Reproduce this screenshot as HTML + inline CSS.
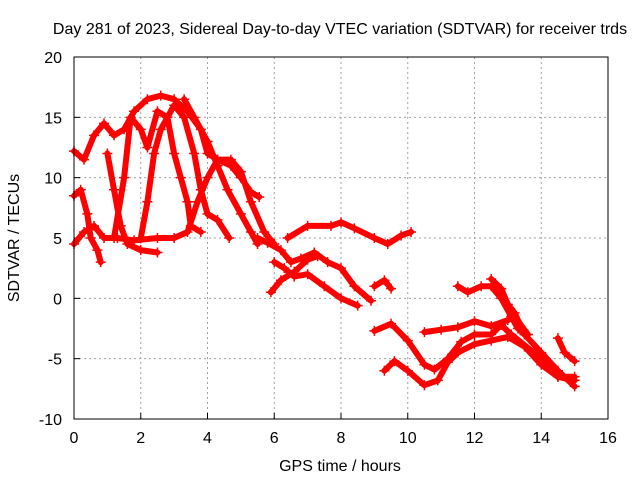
<!DOCTYPE html>
<html><head><meta charset="utf-8"><style>
body{margin:0;background:#fff}
svg text{font-family:"Liberation Sans",sans-serif;font-size:16px;fill:#000}
</style></head><body>
<svg id="chart" width="640" height="480" xmlns="http://www.w3.org/2000/svg">
<rect width="640" height="480" fill="#fff"/>
<text x="340" y="34" text-anchor="middle">Day 281 of 2023, Sidereal Day-to-day VTEC variation (SDTVAR) for receiver trds</text>
<g id="grid"></g>
<g id="ticks"></g>
<g id="series"></g>
<rect x="74" y="57" width="534" height="362" fill="none" stroke="#000" stroke-width="1"/>
<text x="340" y="471" text-anchor="middle">GPS time / hours</text>
<text transform="translate(19,238) rotate(-90)" text-anchor="middle">SDTVAR / TECUs</text>
</svg>
<script>
const xTicks=[0,2,4,6,8,10,12,14,16];
const yTicks=[-10,-5,0,5,10,15,20];
const trackA_t=[0,0.3,0.6,0.9,1.2,1.5,1.8,2.2,2.6,3.0,3.4,3.8,4.0,4.3,4.7,5.0,5.3,5.55];
const trackA_v=[12.2,11.5,13.5,14.5,13.5,14,15.5,16.5,16.8,16.5,15.5,14,12,11.5,11,10,8.8,8.4];
const trackB_t=[0,0.3,0.6,0.9,1.3,1.8,2.5,3.0,3.4,3.7,4.0,4.3,4.7,5.0,5.3,5.7,6.0];
const trackB_v=[4.5,5.5,6,5,5,4.8,5,5,5.5,8,10,11.5,11.5,10.5,8,5.5,4.5];
const trackC_t=[0,0.2,0.4,0.5,0.7,0.8];
const trackC_v=[8.5,9,7,5,4,3];
const trackD_t=[1.0,1.2,1.4,1.6,2.0,2.5];
const trackD_v=[12,9,6,4.5,4,3.8];
const trackE_t=[1.2,1.5,1.7,2.0,2.2,2.5,2.8,3.0,3.2,3.4,3.5,3.8];
const trackE_v=[5,10,15,14,12.5,15.5,15,12,10,8,6,5.5];
const trackF_t=[2.0,2.2,2.4,2.6,3.0,3.3,3.6,3.8,4.0,4.3,4.65];
const trackF_v=[5,8,12,14,16,15,12,9,7,6.5,5];
const trackG_t=[3.3,3.6,4.0,4.3,4.6,5.0,5.3,5.5];
const trackG_v=[16.5,15,13,11,9,7,5.5,4.5];
const trackH_t=[6.4,7.0,7.7,8.0,8.4,9.0,9.4,9.8,10.1];
const trackH_v=[5.0,6.0,6,6.3,5.8,5,4.5,5.2,5.5];
const trackI_t=[5.5,5.8,6.2,6.5,6.8,7.2,7.6,8.0,8.4,8.9];
const trackI_v=[5,4.6,4,3,3.3,3.8,3,2.5,1,-0.2];
const trackJ_t=[6.0,6.3,6.6,7.0,7.5,8.0,8.5];
const trackJ_v=[3,2.5,1.8,2,1,0,-0.6];
const trackK_t=[5.9,6.2,6.6,7.0,7.3];
const trackK_v=[0.5,1.5,2.2,3.2,3.5];
const trackL_t=[9.0,9.3,9.5];
const trackL_v=[1,1.5,0.8];
const trackM_t=[9.0,9.5,10.0,10.5,10.8,11.2,11.6,12.0,12.5,12.8,13.1,14.0,14.5,15.0];
const trackM_v=[-2.7,-2.1,-3.5,-5.5,-5.9,-5.0,-3.6,-3,-3,-2.2,-3,-5,-6.5,-6.8];
const trackN_t=[9.3,9.6,10.0,10.5,10.9,11.2,11.5,12.0,12.5,13.0,13.5,14.0,14.5,15.0];
const trackN_v=[-6,-5.2,-6,-7.2,-6.8,-5.3,-4.5,-3.8,-3.5,-3.2,-4,-5.5,-6.5,-6.5];
const trackO_t=[10.5,11.0,11.5,12.0,12.5,13.0,13.2,13.6];
const trackO_v=[-2.8,-2.6,-2.4,-1.9,-2.3,-1.8,-1.5,-3];
const trackP_t=[11.5,11.8,12.2,12.5,12.8,13.1,13.3,13.5,14.0,14.5,15.0];
const trackP_v=[1,0.5,1,1,0,-1.5,-2.5,-3,-4.5,-6,-7.3];
const trackQ_t=[12.5,12.8,13.0,13.2,13.5];
const trackQ_v=[1.6,0.8,-0.5,-1.2,-3.0];
const trackR_t=[14.5,14.7,15.0];
const trackR_v=[-3.3,-4.5,-5.2];
const tracks=[[trackA_t,trackA_v],[trackB_t,trackB_v],[trackC_t,trackC_v],[trackD_t,trackD_v],[trackE_t,trackE_v],[trackF_t,trackF_v],[trackG_t,trackG_v],[trackH_t,trackH_v],[trackI_t,trackI_v],[trackJ_t,trackJ_v],[trackK_t,trackK_v],[trackL_t,trackL_v],[trackM_t,trackM_v],[trackN_t,trackN_v],[trackO_t,trackO_v],[trackP_t,trackP_v],[trackQ_t,trackQ_v],[trackR_t,trackR_v]];
const NS="http://www.w3.org/2000/svg";
const X0=74,X1=608,Y0=419,Y1=57;
function sx(t){return X0+(t-0)/(16-0)*(X1-X0);}
function sy(v){return Y0-(v+10)/(30)*(Y0-Y1);}
function mk(tag,attrs,parent){const e=document.createElementNS(NS,tag);for(const k in attrs)e.setAttribute(k,attrs[k]);parent.appendChild(e);return e;}
const grid=document.getElementById('grid'),ticks=document.getElementById('ticks'),series=document.getElementById('series');
xTicks.forEach(t=>{const x=sx(t);
 if(t>0&&t<16){const g=mk('line',{x1:x,x2:x,y1:Y0,y2:Y1,stroke:'#a0a0a0','stroke-dasharray':'2,3'},grid);
 
 }
 const l=mk('line',{x1:x,x2:x,y1:Y0,y2:Y0-6,stroke:'#000'},ticks);
 
 
 const tx=mk('text',{x:x,y:443,'text-anchor':'middle'},ticks);tx.textContent=t;
 
 
});
yTicks.forEach(v=>{const y=sy(v);
 if(v>-10&&v<20){const g=mk('line',{x1:X0,x2:X1,y1:y,y2:y,stroke:'#a0a0a0','stroke-dasharray':'2,3'},grid);
 
 }
 const l=mk('line',{x1:X0,x2:X0+6,y1:y,y2:y,stroke:'#000'},ticks);
 
 
 const tx=mk('text',{x:62,y:y+6,'text-anchor':'end'},ticks);tx.textContent=v;
 
 
});
tracks.forEach(([ts,vs],i)=>{
 const d=ts.map((t,j)=>(j?'L':'M')+sx(t).toFixed(1)+','+sy(vs[j]).toFixed(1)).join(' ');
 const p=mk('path',{d:d,fill:'none',stroke:'#ff0000','stroke-width':6,'stroke-linejoin':'round','stroke-linecap':'round'},series);
 
 
 ts.forEach((t,j)=>{const x=sx(t),y=sy(vs[j]);
  const m=mk('path',{d:`M${x-5},${y}H${x+5}M${x},${y-5}V${y+5}`,stroke:'#ff0000','stroke-width':1.5},series);
  
  
 });
});
</script>
</body></html>
